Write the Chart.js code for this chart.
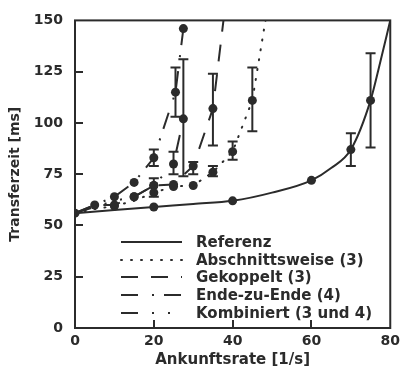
<!DOCTYPE html>
<html>
<head>
<meta charset="utf-8">
<script src="https://cdn.jsdelivr.net/npm/chart.js@4.4.1/dist/chart.umd.min.js"></script>
<style>
  html, body { margin: 0; padding: 0; background: #fff; }
</style>
</head>
<body>
<canvas id="transfer-chart" width="405" height="378"></canvas>
<script>
// values: rate in 1/s, transfer time in ms

// Referenz (solid)
let refRate = [0, 10, 20, 30, 40, 50, 60, 65, 70, 75, 77.5, 80]
let refTime = [56, 57.5, 59, 60.5, 62, 66, 72, 78, 87, 111, 130, 150]
let refMeasured = [0, 20, 40, 60, 70, 75]
let refErr = [[70, 79, 95], [75, 88, 134]]

// Abschnittsweise (3), dotted
let abschRate = [0, 5, 10, 15, 20, 25, 30, 35, 40, 45, 48.5]
let abschTime = [56, 58, 59.5, 62, 66, 69, 69.5, 76, 86, 111, 152]
let abschMeasured = [10, 20, 25, 30, 35, 40, 45]
let abschErr = [[35, 74, 79], [40, 82, 91], [45, 96, 127]]

// Gekoppelt (3), long dashes
let gekRate = [0, 5, 10, 15, 20, 25, 30, 35, 37.8]
let gekTime = [56, 60, 60, 64, 69.5, 70, 79, 107, 152]
let gekMeasured = [5, 10, 15, 20, 25, 30, 35]
let gekErr = [[30, 75, 81], [35, 89, 124]]

// Ende-zu-Ende (4), dash-dot
let endeRate = [0, 5, 10, 15, 20, 25.5, 27.5]
let endeTime = [56, 60, 64, 71, 83, 115, 146]
let endeMeasured = [10, 15, 20, 25.5, 27.5]
let endeErr = [[20, 79, 87], [25.5, 103, 127]]

// Kombiniert (3 und 4), dash-dot-dot
let kombRate = [0, 5, 10, 15, 20, 25, 27.5]
let kombTime = [56, 59, 62, 64, 69.5, 80, 102]
let kombMeasured = [15, 20, 25, 27.5]
let kombErr = [[20, 64, 73], [25, 75, 86], [27.5, 74, 131]]

let xTicks = [0, 20, 40, 60, 80]
let yTicks = [0, 25, 50, 75, 100, 125, 150]

let ink = '#2b2b2b'
let fontFamily = '"DejaVu Sans", sans-serif'

function points(rates, times) {
    return rates.map(function (r, i) { return { x: r, y: times[i] } })
}

function radii(rates, measured, size) {
    return rates.map(function (r) { return measured.includes(r) ? size : 0 })
}

function series(label, rates, times, measured, errors, dash, cap) {
    return {
        label: label,
        data: points(rates, times),
        errorBars: errors,
        borderColor: ink,
        backgroundColor: ink,
        borderWidth: 2,
        borderDash: dash,
        borderCapStyle: cap || 'butt',
        pointRadius: radii(rates, measured, 4.5),
        pointBackgroundColor: ink,
        pointBorderWidth: 0,
        tension: 0,
        fill: false
    }
}

let datasets = [
    series('Referenz', refRate, refTime, refMeasured, refErr, []),
    series('Abschnittsweise (3)', abschRate, abschTime, abschMeasured, abschErr, [1, 9], 'round'),
    series('Gekoppelt (3)', gekRate, gekTime, gekMeasured, gekErr, [17, 13]),
    series('Ende-zu-Ende (4)', endeRate, endeTime, endeMeasured, endeErr, [17, 14, 2, 10]),
    series('Kombiniert (3 und 4)', kombRate, kombTime, kombMeasured, kombErr, [17, 14, 2, 14, 2, 14])
]
datasets[0].cubicInterpolationMode = 'monotone'

// error bars, drawn through the scales
let errorBarPlugin = {
    id: 'errorBars',
    afterDatasetsDraw: function (chart) {
        let ctx = chart.ctx
        let xs = chart.scales.x
        let ys = chart.scales.y
        let area = chart.chartArea
        ctx.save()
        ctx.beginPath()
        ctx.rect(area.left, area.top, area.right - area.left, area.bottom - area.top)
        ctx.clip()
        ctx.strokeStyle = ink
        ctx.lineWidth = 2
        ctx.setLineDash([])
        chart.data.datasets.forEach(function (ds) {
            (ds.errorBars || []).forEach(function (e) {
                let px = xs.getPixelForValue(e[0])
                let lo = ys.getPixelForValue(e[1])
                let hi = ys.getPixelForValue(e[2])
                ctx.beginPath()
                ctx.moveTo(px, lo)
                ctx.lineTo(px, hi)
                ctx.moveTo(px - 5, lo)
                ctx.lineTo(px + 5, lo)
                ctx.moveTo(px - 5, hi)
                ctx.lineTo(px + 5, hi)
                ctx.stroke()
            })
        })
        ctx.restore()
    }
}

// box round the plot with the small inside ticks
let framePlugin = {
    id: 'frame',
    afterDraw: function (chart) {
        let ctx = chart.ctx
        let a = chart.chartArea
        let xs = chart.scales.x
        let ys = chart.scales.y
        ctx.save()
        ctx.strokeStyle = ink
        ctx.lineWidth = 2
        ctx.setLineDash([])
        ctx.strokeRect(a.left, a.top, a.right - a.left, a.bottom - a.top)
        ctx.beginPath()
        yTicks.slice(1, -1).forEach(function (v) {
            let py = Math.round(ys.getPixelForValue(v))
            ctx.moveTo(a.left, py)
            ctx.lineTo(a.left + 8, py)
        })
        xTicks.slice(1, -1).forEach(function (v) {
            let px = Math.round(xs.getPixelForValue(v))
            ctx.moveTo(px, a.bottom)
            ctx.lineTo(px, a.bottom - 8)
        })
        ctx.stroke()
        ctx.restore()
    }
}

// legend sitting inside the plot, bottom right
let legendPlugin = {
    id: 'insideLegend',
    afterDraw: function (chart) {
        let ctx = chart.ctx
        let a = chart.chartArea
        let rows = [86, 68, 51, 33, 15]
        ctx.save()
        ctx.font = 'bold 15px ' + fontFamily
        ctx.fillStyle = ink
        ctx.textBaseline = 'middle'
        chart.data.datasets.forEach(function (ds, i) {
            let y = a.bottom - rows[i]
            ctx.strokeStyle = ink
            ctx.lineWidth = 2
            ctx.lineCap = ds.borderCapStyle
            ctx.setLineDash(ds.borderDash)
            ctx.beginPath()
            ctx.moveTo(a.left + 46, y)
            ctx.lineTo(a.left + 107, y)
            ctx.stroke()
            ctx.fillText(ds.label, a.left + 121, y + 1)
        })
        ctx.restore()
    }
}

let tickFont = { family: fontFamily, size: 14, weight: 'bold' }

let chart = new Chart(document.querySelector('#transfer-chart'), {
    type: 'line',
    data: { datasets: datasets },
    plugins: [errorBarPlugin, framePlugin, legendPlugin],
    options: {
        responsive: false,
        animation: false,
        devicePixelRatio: 1,
        layout: { padding: { top: 13, right: 12, left: 0, bottom: 0 } },
        plugins: { legend: { display: false }, tooltip: { enabled: false } },
        scales: {
            x: {
                type: 'linear',
                min: 0,
                max: 80,
                afterBuildTicks: function (s) { s.ticks = xTicks.map(function (v) { return { value: v } }) },
                afterFit: function (s) { s.height = 50 },
                ticks: { font: tickFont, color: ink, padding: 5, maxRotation: 0 },
                grid: { drawOnChartArea: false, drawTicks: false },
                border: { display: false },
                title: {
                    display: true,
                    text: 'Ankunftsrate [1/s]',
                    font: { family: fontFamily, size: 15, weight: 'bold' },
                    color: ink,
                    padding: { top: 0, bottom: 9 }
                }
            },
            y: {
                type: 'linear',
                min: 0,
                max: 150,
                afterBuildTicks: function (s) { s.ticks = yTicks.map(function (v) { return { value: v } }) },
                afterFit: function (s) { s.width = 75 },
                ticks: { font: tickFont, color: ink, padding: 12 },
                grid: { drawOnChartArea: false, drawTicks: false },
                border: { display: false },
                title: {
                    display: true,
                    text: 'Transferzeit [ms]',
                    font: { family: fontFamily, size: 14, weight: 'bold' },
                    color: ink,
                    padding: { top: 7, bottom: 0 }
                }
            }
        }
    }
})
</script>
</body>
</html>
